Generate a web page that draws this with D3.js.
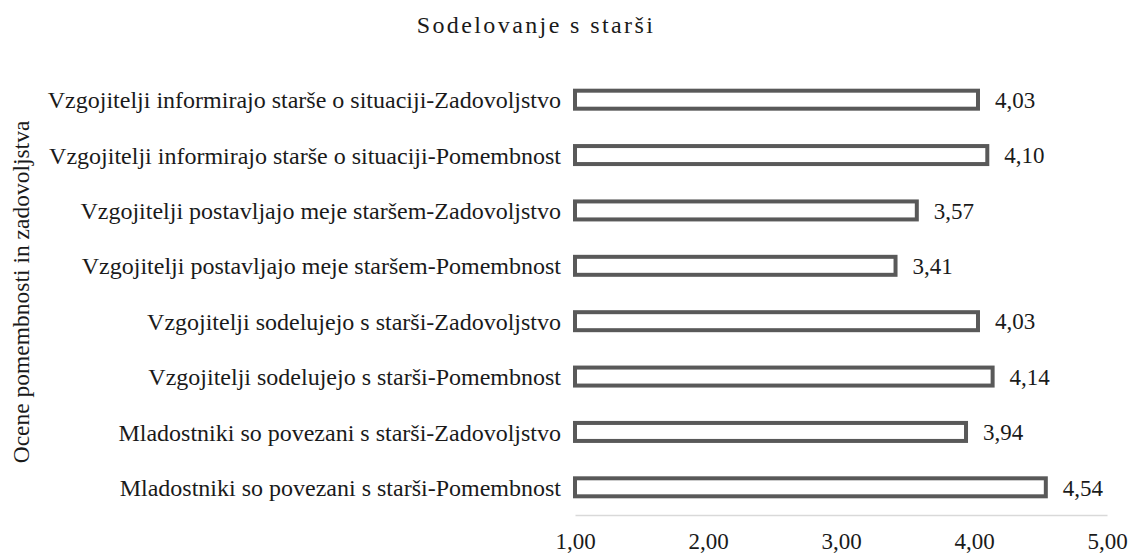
<!DOCTYPE html>
<html>
<head>
<meta charset="utf-8">
<script src="https://cdn.jsdelivr.net/npm/d3@7"></script>
<style>
  html, body { margin: 0; padding: 0; background: #fff; }
</style>
</head>
<body>
<svg id="chart" width="1131" height="553"></svg>
<script>
const categories = [
  "Vzgojitelji informirajo starše o situaciji-Zadovoljstvo",
  "Vzgojitelji informirajo starše o situaciji-Pomembnost",
  "Vzgojitelji postavljajo meje staršem-Zadovoljstvo",
  "Vzgojitelji postavljajo meje staršem-Pomembnost",
  "Vzgojitelji sodelujejo s starši-Zadovoljstvo",
  "Vzgojitelji sodelujejo s starši-Pomembnost",
  "Mladostniki so povezani s starši-Zadovoljstvo",
  "Mladostniki so povezani s starši-Pomembnost"
];
const values = [4.03, 4.10, 3.57, 3.41, 4.03, 4.14, 3.94, 4.54];
const tickValues = [1, 2, 3, 4, 5];
const titleText = "Sodelovanje s starši";
const yAxisTitle = "Ocene pomembnosti in zadovoljstva";

const FONT = "Liberation Serif";
const svg = d3.select("#chart");
const fmt = v => d3.format(".2f")(v).replace(".", ",");

const x = d3.scaleLinear().domain([1, 5]).range([575, 1107]);
const y = d3.scaleBand().domain(categories).range([72, 515]).paddingInner(0.675).paddingOuter(0.3375);

// title
svg.append("text")
  .attr("x", 536).attr("y", 33)
  .attr("text-anchor", "middle")
  .style("font-family", FONT)
  .style("font-size", "24px")
  .style("letter-spacing", "2.4px")
  .attr("fill", "#1a1a1a")
  .text(titleText);

// y axis title
svg.append("text")
  .attr("transform", "translate(29,292) rotate(-90)")
  .attr("text-anchor", "middle")
  .style("font-family", FONT)
  .style("font-size", "23.5px")
  .attr("fill", "#1a1a1a")
  .text(yAxisTitle);

// x axis
const xAxis = svg.append("g")
  .attr("transform", "translate(0,515)")
  .call(d3.axisBottom(x).tickValues(tickValues).tickSize(0).tickPadding(18).tickFormat(fmt));
xAxis.select(".domain").attr("stroke", "#d9d9d9").attr("stroke-width", 1.5);
xAxis.selectAll("text")
  .style("font-family", FONT)
  .style("font-size", "23px")
  .attr("fill", "#1a1a1a");

// category labels
svg.append("g")
  .selectAll("text").data(categories).join("text")
  .attr("x", 561)
  .attr("y", d => y(d) + y.bandwidth() / 2)
  .attr("dy", "0.36em")
  .attr("text-anchor", "end")
  .style("font-family", FONT)
  .style("font-size", "24px")
  .attr("fill", "#1a1a1a")
  .text(d => d);

// bars
svg.append("g").selectAll("rect").data(values).join("rect")
  .attr("x", x(1))
  .attr("y", (d, i) => y(categories[i]))
  .attr("width", d => x(d) - x(1))
  .attr("height", y.bandwidth())
  .attr("fill", "#ffffff")
  .attr("stroke", "#595959")
  .attr("stroke-width", 4);

// value labels
svg.append("g")
  .selectAll("text").data(values).join("text")
  .attr("x", d => x(d) + 17)
  .attr("y", (d, i) => y(categories[i]) + y.bandwidth() / 2)
  .attr("dy", "0.36em")
  .style("font-family", FONT)
  .style("font-size", "23px")
  .attr("fill", "#1a1a1a")
  .text(d => fmt(d));
</script>
</body>
</html>
